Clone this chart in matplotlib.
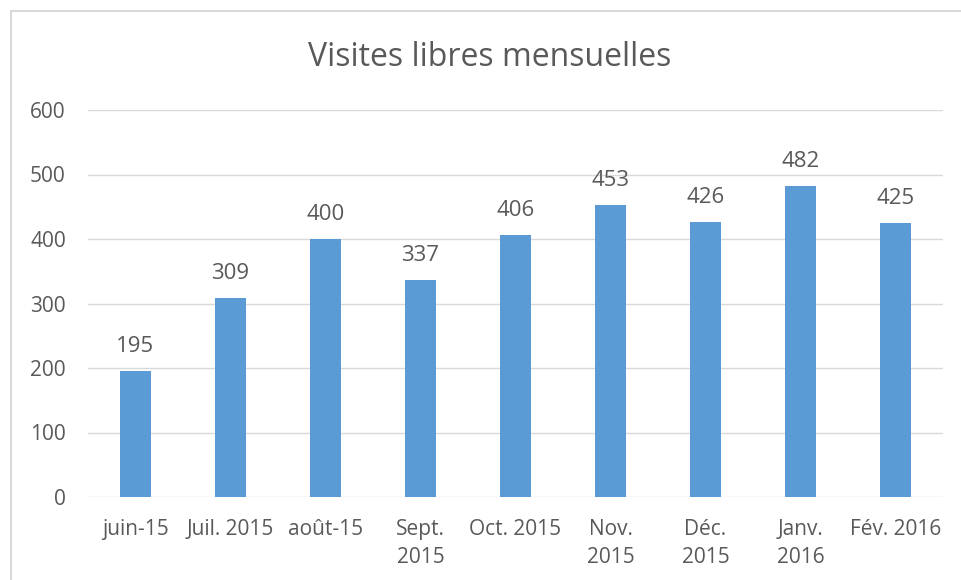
import matplotlib
matplotlib.use("Agg")
import matplotlib.pyplot as plt
from matplotlib.patches import Rectangle

categories = ["juin-15", "Juil. 2015", "août-15", "Sept.\n2015", "Oct. 2015",
              "Nov.\n2015", "Déc.\n2015", "Janv.\n2016", "Fév. 2016"]
values = [195, 309, 400, 337, 406, 453, 426, 482, 425]
yticks = [0, 100, 200, 300, 400, 500, 600]
title = "Visites libres mensuelles"

plt.rcParams['font.family'] = ['Open Sans', 'DejaVu Sans']
W, H = 962, 580
fig = plt.figure(figsize=(W / 100, H / 100), dpi=100)
ax = fig.add_axes([88 / W, 1 - 497 / H, (943 - 88) / W, (497 - 110) / H])

bar_color = "#5B9BD5"
text_color = "#595959"
grid_color = "#D9D9D9"

x = list(range(len(categories)))
bars = ax.bar(x, values, width=0.32, color=bar_color, zorder=3)
ax.set_xlim(-0.5, len(categories) - 0.5)
ax.set_ylim(0, 600)
ax.set_yticks(yticks)
ax.set_yticklabels([str(t) for t in yticks], fontsize=15, color=text_color)
ax.set_xticks(x)
ax.set_xticklabels(categories, fontsize=15, color=text_color, linespacing=1.45)
ax.tick_params(axis='both', length=0)
ax.tick_params(axis='x', pad=16)
ax.tick_params(axis='y', pad=16)
for lbl in ax.get_xticklabels():
    lbl.set_verticalalignment('top')
ax.yaxis.grid(True, color=grid_color, linewidth=1, zorder=0)
for s in ax.spines.values():
    s.set_visible(False)

for xi, v in zip(x, values):
    ax.annotate(str(v), (xi, v), xytext=(0, 10), textcoords='offset points',
                ha='center', va='bottom', fontsize=16, color=text_color)

fig.text(490 / W, 1 - 58 / H, title, ha='center', va='center',
         fontsize=23, color=text_color)

fig.patches.append(Rectangle((11 / W, -0.05), 1.1, 1 - 11 / H + 0.05,
                             transform=fig.transFigure, fill=False,
                             edgecolor="#D9D9D9", linewidth=1.5))

fig.savefig("out.png", dpi=100)
